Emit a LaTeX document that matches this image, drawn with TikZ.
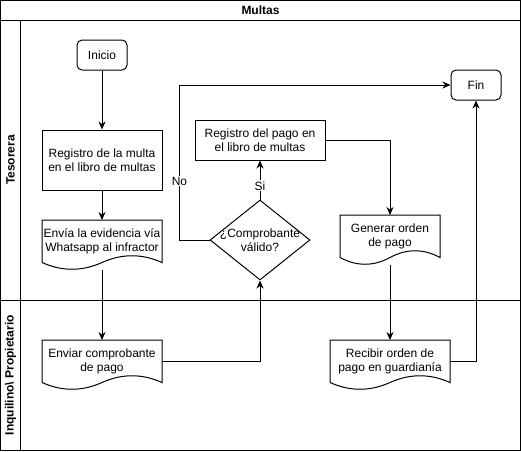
\documentclass[tikz,border=0pt]{standalone}
\usepackage{fontspec}
\setmainfont{Liberation Sans}
\usetikzlibrary{shapes.geometric, arrows.meta}

\begin{document}
\begin{tikzpicture}[x=1pt, y=-1pt, line width=1pt,
  txt/.style={font=\fontsize{12}{14}\selectfont, align=center, inner sep=1pt},
  terminal/.style={txt, draw, rounded corners=5pt, minimum width=50pt, minimum height=30pt},
  process/.style={txt, draw, minimum width=#1},
  docbox/.style={txt, outer sep=0pt, minimum width=#1, minimum height=42.5pt},
  decision/.style={txt, draw, diamond, inner sep=0pt, minimum width=100pt, minimum height=80pt},
  flow/.style={-{Stealth[length=8pt,width=7pt]}},
  lbl/.style={txt, fill=white, inner sep=1pt},
  lane/.style={font=\fontsize{12}{14}\selectfont\bfseries, rotate=90}]
\useasboundingbox (0,0) rectangle (521,451);

% Pool and lanes
\draw (0.5,0.5) rectangle (520.5,450.5);
\draw (0.5,20.5) -- (520.5,20.5);
\draw (20.5,20.5) -- (20.5,450.5);
\draw (0.5,300.5) -- (520.5,300.5);
\node[font=\fontsize{12}{14}\selectfont\bfseries] (title) at (260.5,10.5) {Multas};
\node[lane] (tesorera) at (10.5,160) {Tesorera};
\node[lane] (inquilino) at (10.5,375) {Inquilino\textbackslash\ Propietario};

% Lane: Tesorera
\node[terminal] (inicio) at (102,55) {Inicio};
\node[process=120pt, minimum height=60pt] (regmulta) at (102,160) {Registro de la multa\\en el libro de multas};
\node[docbox=120pt] (envia) at (102,241.25) {Envía la evidencia vía\\Whatsapp al infractor};
\node[decision] (valido) at (260,240) {\makebox[0pt]{¿Comprobante}\\\makebox[0pt]{válido?}};
\node[process=130pt, minimum height=40pt] (regpago) at (260,140) {Registro del pago en\\el libro de multas};
\node[docbox=100pt] (generar) at (390,236.25) {Generar orden\\de pago};
\node[terminal] (fin) at (476,85) {Fin};

% Lane: Inquilino / Propietario
\node[docbox=120pt] (enviar) at (102,361.25) {Enviar comprobante\\de pago};
\node[docbox=120pt] (recibir) at (390,361.25) {Recibir orden de\\pago en guardianía};

% document outlines
\foreach \n/\w in {envia/120,enviar/120,generar/100,recibir/120}{
  \pgfmathsetmacro\q{\w/6}
  \draw (\n.north west) -- (\n.north east) -- (\n.south east)
    .. controls ([xshift=-\q pt,yshift=9pt]\n.south east) and ([xshift=\q pt,yshift=9pt]\n.south) .. (\n.south)
    .. controls ([xshift=-\q pt,yshift=-9pt]\n.south) and ([xshift=\q pt,yshift=-9pt]\n.south west) .. (\n.south west) -- cycle;
  \coordinate (\n-b) at ([yshift=-7.5pt]\n.south);
}

% Connectors
\draw[flow] (inicio) -- (regmulta);
\draw[flow] (regmulta) -- (envia);
\draw[flow] (envia-b) -- (enviar);
\draw[flow] (enviar.east) -| (valido.south);
\draw[flow] (valido.west) -- ([xshift=-30pt]valido.west) |- node[lbl,pos=0.19]{No} (fin.west);
\draw[flow] (valido.north) -- node[lbl,pos=0.35]{Si} (regpago.south);
\draw[flow] (regpago.east) -| (generar.north);
\draw[flow] (generar-b) -- (recibir);
\draw[flow] (recibir.east) -| (fin.south);
\end{tikzpicture}
\end{document}
